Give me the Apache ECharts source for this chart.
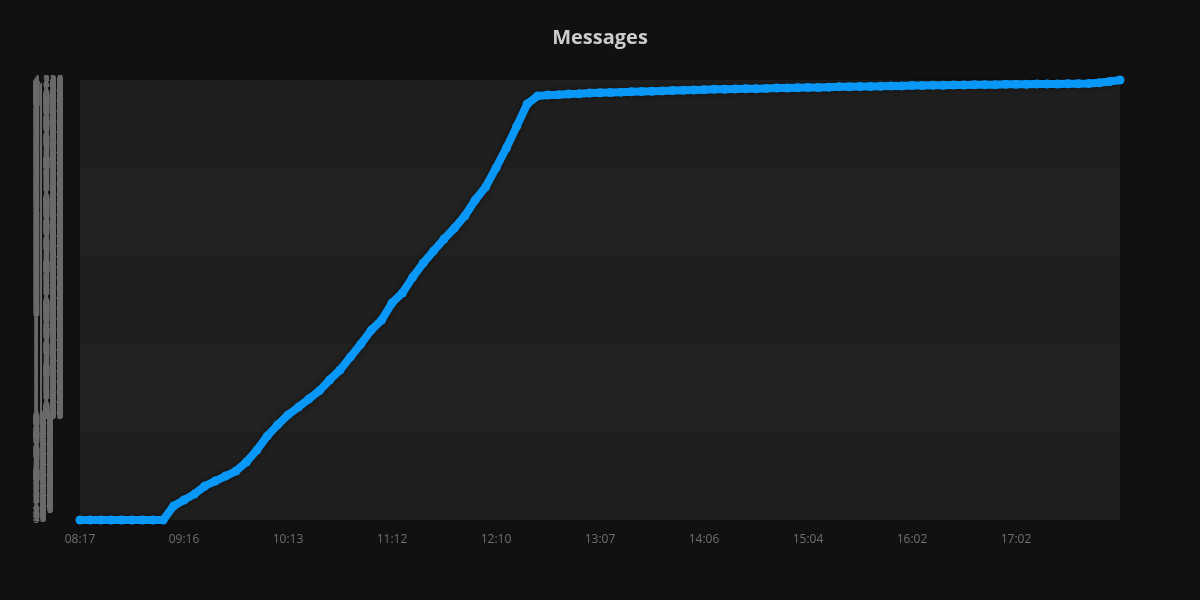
<!DOCTYPE html>
<html>
<head>
<meta charset="utf-8">
<script src="https://cdn.jsdelivr.net/npm/echarts@6/dist/echarts.min.js"></script>
<style>
  html, body { margin: 0; padding: 0; background: #111111; }
  #chart { width: 1200px; height: 600px; }
</style>
</head>
<body>
<div id="chart"></div>
<script>
const titleText = 'Messages';

const times = [
  '08:17','08:23','08:29','08:35','08:41','08:46','08:52','08:58','09:04','09:10',
  '09:16','09:22','09:27','09:33','09:39','09:44','09:50','09:56','10:02','10:07',
  '10:13','10:19','10:25','10:31','10:37','10:42','10:48','10:54','11:00','11:06',
  '11:12','11:18','11:24','11:29','11:35','11:41','11:47','11:53','11:58','12:04',
  '12:10','12:16','12:21','12:27','12:33','12:38','12:44','12:50','12:56','13:01',
  '13:07','13:13','13:19','13:25','13:31','13:36','13:42','13:48','13:54','14:00',
  '14:06','14:12','14:18','14:23','14:29','14:35','14:41','14:47','14:52','14:58',
  '15:04','15:10','15:16','15:21','15:27','15:33','15:39','15:45','15:50','15:56',
  '16:02','16:08','16:14','16:20','16:26','16:32','16:38','16:44','16:50','16:56',
  '17:02','17:08','17:14','17:19','17:25','17:31','17:37','17:43','17:48','17:54',
  '18:00'
];

const messages = [
  0, 0, 0, 0, 0, 0, 0, 0, 0, 135,
  192, 249, 327, 375, 423, 471, 558, 672, 807, 915,
  1011, 1086, 1164, 1242, 1347, 1443, 1569, 1692, 1827, 1923,
  2088, 2184, 2337, 2472, 2589, 2703, 2808, 2925, 3078, 3204,
  3387, 3579, 3789, 4002, 4080, 4089, 4092, 4098, 4101, 4107,
  4110, 4113, 4116, 4119, 4122, 4125, 4128, 4131, 4134, 4137,
  4140, 4143, 4143, 4146, 4149, 4149, 4152, 4155, 4155, 4158,
  4161, 4161, 4164, 4167, 4167, 4170, 4170, 4173, 4176, 4176,
  4179, 4179, 4182, 4182, 4185, 4185, 4188, 4188, 4188, 4191,
  4191, 4191, 4194, 4194, 4194, 4197, 4197, 4200, 4206, 4218,
  4233
];

const labelEvery = 10;

const yMax = Math.max.apply(null, messages);

const chart = echarts.init(document.getElementById('chart'), null, { renderer: 'canvas' });

chart.setOption({
  animation: false,
  backgroundColor: '#111111',
  title: {
    text: titleText,
    left: 'center',
    top: 23,
    textStyle: {
      color: '#cccccc',
      fontSize: 20,
      fontWeight: 'bold',
      fontFamily: 'Open Sans'
    }
  },
  grid: {
    left: 80,
    right: 80,
    top: 80,
    bottom: 80,
    show: true,
    borderWidth: 0,
    backgroundColor: '#202020'
  },
  xAxis: {
    type: 'category',
    data: times,
    boundaryGap: false,
    axisLine: { show: false },
    axisTick: { show: false },
    splitLine: { show: false },
    axisLabel: {
      color: '#6f6f6f',
      fontSize: 12,
      fontFamily: 'Open Sans',
      margin: 14,
      interval: function (index) { return index % labelEvery === 0 && index < times.length - 1; }
    }
  },
  yAxis: [
    {
      type: 'value',
      min: 0,
      max: yMax,
      interval: yMax / 5,
      axisLine: { show: false },
      axisTick: { show: false },
      axisLabel: { show: false },
      splitLine: { show: false },
      splitArea: {
        show: true,
        areaStyle: { color: ['#1f1f1f', '#222222'] }
      }
    },
    {
      type: 'value',
      position: 'left',
      min: 0,
      max: yMax,
      interval: 5,
      axisLine: { show: false },
      axisTick: { show: false },
      splitLine: { show: false },
      splitArea: { show: false },
      axisLabel: {
        show: true,
        align: 'left',
        margin: 47,
        color: '#6a6a6a',
        fontSize: 12,
        fontFamily: 'Open Sans',
        hideOverlap: false
      }
    }
  ],
  series: [
    {
      type: 'line',
      name: titleText,
      data: messages,
      yAxisIndex: 0,
      clip: false,
      smooth: false,
      symbol: 'circle',
      showSymbol: true,
      showAllSymbol: true,
      symbolSize: 9,
      itemStyle: { color: '#0a98f8' },
      lineStyle: {
        color: '#0a98f8',
        width: 8,
        shadowColor: 'rgba(0,0,0,0.45)',
        shadowBlur: 6
      }
    }
  ]
});
</script>
</body>
</html>
